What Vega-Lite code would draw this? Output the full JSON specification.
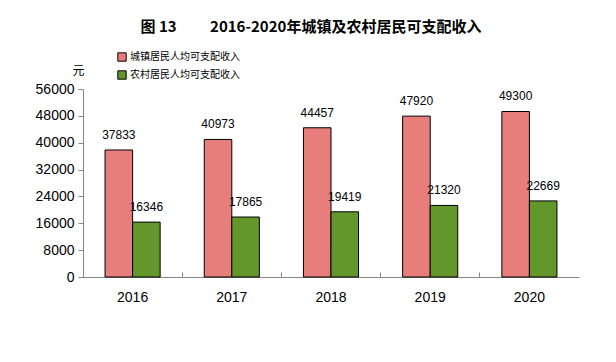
{
  "$schema": "https://vega.github.io/schema/vega-lite/v6.json",
  "width": 496,
  "height": 188,
  "autosize": {"type": "none"},
  "padding": {"left": 83, "top": 89, "right": 37, "bottom": 85},
  "background": "white",
  "config": {"view": {"stroke": null}, "font": "Liberation Sans"},
  "title": {
    "text": "图 13\u3000\u3000 2016-2020年城镇及农村居民可支配收入",
    "font": "Noto Sans CJK SC",
    "fontSize": 15,
    "fontWeight": "bold",
    "color": "black",
    "anchor": "middle",
    "offset": 17,
    "dx": -20
  },
  "data": {
    "values": [
      {"year": "2016", "series": "城镇居民人均可支配收入", "value": 37833},
      {"year": "2016", "series": "农村居民人均可支配收入", "value": 16346},
      {"year": "2017", "series": "城镇居民人均可支配收入", "value": 40973},
      {"year": "2017", "series": "农村居民人均可支配收入", "value": 17865},
      {"year": "2018", "series": "城镇居民人均可支配收入", "value": 44457},
      {"year": "2018", "series": "农村居民人均可支配收入", "value": 19419},
      {"year": "2019", "series": "城镇居民人均可支配收入", "value": 47920},
      {"year": "2019", "series": "农村居民人均可支配收入", "value": 21320},
      {"year": "2020", "series": "城镇居民人均可支配收入", "value": 49300},
      {"year": "2020", "series": "农村居民人均可支配收入", "value": 22669}
    ]
  },
  "encoding": {
    "x": {
      "field": "year",
      "type": "nominal",
      "scale": {"paddingInner": 0, "paddingOuter": 0},
      "axis": {
        "title": null,
        "labelAngle": 0,
        "labelFontSize": 14,
        "labelColor": "black",
        "labelPadding": 18,
        "bandPosition": 0,
        "tickSize": -5,
        "tickColor": "#868686",
        "domainColor": "#868686",
        "grid": false
      }
    },
    "xOffset": {
      "field": "series",
      "type": "nominal",
      "sort": ["城镇居民人均可支配收入", "农村居民人均可支配收入"],
      "scale": {"paddingInner": 0, "paddingOuter": 0.8}
    },
    "y": {
      "field": "value",
      "type": "quantitative",
      "scale": {"domain": [0, 56000], "nice": false},
      "axis": {
        "values": [0, 8000, 16000, 24000, 32000, 40000, 48000, 56000],
        "format": "d",
        "grid": false,
        "title": "元",
        "titleAngle": 0,
        "titleFont": "Noto Sans CJK SC",
        "titleFontSize": 12,
        "titleFontWeight": "normal",
        "titleColor": "black",
        "titleX": -5,
        "titleY": -19,
        "titleAlign": "center",
        "titleBaseline": "middle",
        "labelFontSize": 14,
        "labelColor": "black",
        "labelPadding": 4,
        "tickSize": 5,
        "tickColor": "#868686",
        "domainColor": "#868686"
      }
    }
  },
  "layer": [
    {
      "mark": {"type": "bar", "stroke": "black", "strokeWidth": 1},
      "encoding": {
        "color": {
          "field": "series",
          "type": "nominal",
          "sort": ["城镇居民人均可支配收入", "农村居民人均可支配收入"],
          "scale": {"range": ["#E87E7B", "#63962B"]},
          "legend": {
            "title": null,
            "orient": "none",
            "legendX": 34,
            "legendY": -37,
            "symbolType": "square",
            "symbolSize": 70,
            "symbolStrokeColor": "black",
            "symbolStrokeWidth": 1,
            "labelFont": "Noto Sans CJK SC",
            "labelFontSize": 10,
            "labelColor": "black",
            "rowPadding": 4,
            "labelOffset": 3
          }
        }
      }
    },
    {
      "mark": {"type": "text", "baseline": "bottom", "dy": -8, "fontSize": 12, "color": "black", "letterSpacing": 0.5},
      "encoding": {
        "text": {"field": "value", "type": "quantitative", "format": "d"}
      }
    }
  ]
}
